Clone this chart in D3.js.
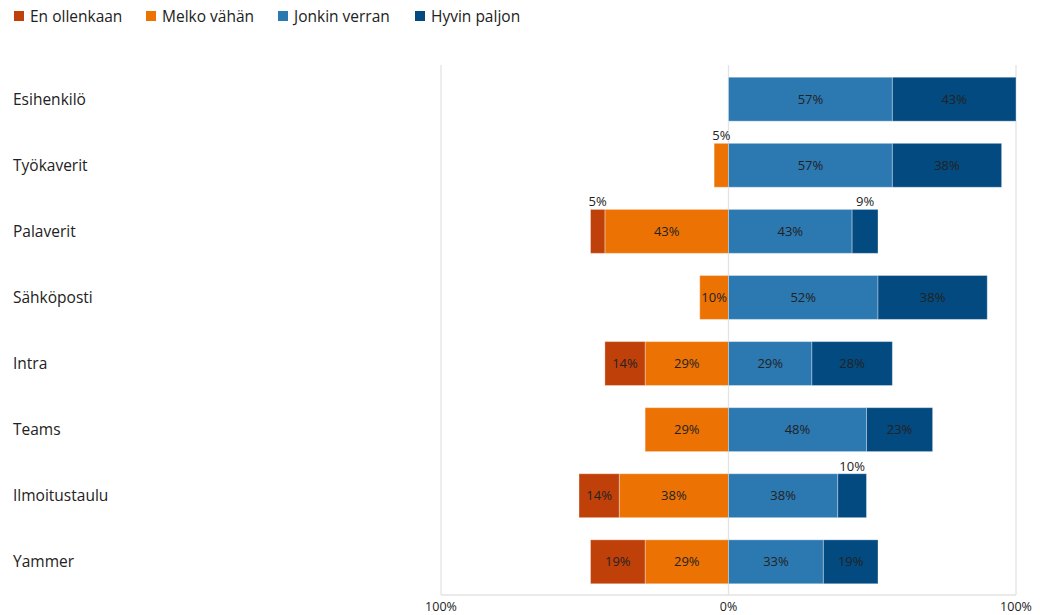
<!DOCTYPE html>
<html>
<head>
<meta charset="utf-8">
<script src="https://cdn.jsdelivr.net/npm/d3@7"></script>
<style>
  body { margin: 0; background: #fff; font-family: "Open Sans", "Noto Sans", sans-serif; }
  svg text { fill: #222; }
</style>
</head>
<body>
<svg id="chart" width="1040" height="615"></svg>
<script>
const categories = ["Esihenkilö", "Työkaverit", "Palaverit", "Sähköposti", "Intra", "Teams", "Ilmoitustaulu", "Yammer"];
const keys = ["En ollenkaan", "Melko vähän", "Jonkin verran", "Hyvin paljon"];
const enOllenkaan  = [0, 0, 5, 0, 14, 0, 14, 19];
const melkoVahan   = [0, 5, 43, 10, 29, 29, 38, 29];
const jonkinVerran = [57, 57, 43, 52, 29, 48, 38, 33];
const hyvinPaljon  = [43, 38, 9, 38, 28, 23, 10, 19];
// labels that sit above the bar instead of inside it
const labelAbove = [["Työkaverit", "Melko vähän"], ["Palaverit", "En ollenkaan"], ["Palaverit", "Hyvin paljon"], ["Ilmoitustaulu", "Hyvin paljon"]];
const axisTicks = [-100, 0, 100];

const colors = ["#c0400a", "#ec7204", "#2c78b0", "#034a80"];

const svg = d3.select("#chart");

const data = categories.map(function(c, i) {
  return { cat: c, vals: [enOllenkaan[i], melkoVahan[i], jonkinVerran[i], hyvinPaljon[i]] };
});

const x = d3.scaleLinear().domain([-100, 100]).range([441, 1016]);
const y = d3.scaleBand().domain(categories).range([66, 595]).paddingInner(0.335).paddingOuter(0.17);
const z = d3.scaleOrdinal().domain(keys).range(colors);

// frame + gridlines
const grid = svg.append("g");
axisTicks.forEach(function(t) {
  grid.append("line")
    .attr("x1", x(t)).attr("x2", x(t))
    .attr("y1", 65).attr("y2", 595)
    .attr("stroke", "#e3e3e3").attr("stroke-width", 1.3);
});
grid.append("line")
  .attr("x1", x(-100)).attr("x2", x(100))
  .attr("y1", 595).attr("y2", 595)
  .attr("stroke", "#e3e3e3").attr("stroke-width", 1.3);

// build segments: first two go left from 0, last two go right
const segs = [];
data.forEach(function(d) {
  let left = 0;
  for (let k = 1; k >= 0; k--) {
    const v = d.vals[k];
    segs.push({ cat: d.cat, key: keys[k], v: v, x0: left - v, x1: left });
    left -= v;
  }
  let right = 0;
  for (let k = 2; k < 4; k++) {
    const v = d.vals[k];
    segs.push({ cat: d.cat, key: keys[k], v: v, x0: right, x1: right + v });
    right += v;
  }
});
const shown = segs.filter(function(s) { return s.v > 0; });

svg.append("g")
  .selectAll("rect")
  .data(shown)
  .enter().append("rect")
    .attr("x", function(s) { return x(s.x0); })
    .attr("y", function(s) { return y(s.cat); })
    .attr("width", function(s) { return x(s.x1) - x(s.x0); })
    .attr("height", y.bandwidth())
    .attr("fill", function(s) { return z(s.key); })
    .attr("stroke", "rgba(255,255,255,0.35)")
    .attr("stroke-width", 1);

function isAbove(s) {
  return labelAbove.some(function(p) { return p[0] === s.cat && p[1] === s.key; });
}

svg.append("g")
  .selectAll("text")
  .data(shown)
  .enter().append("text")
    .attr("x", function(s) { return (x(s.x0) + x(s.x1)) / 2; })
    .attr("y", function(s) {
      return isAbove(s) ? y(s.cat) - 3 : y(s.cat) + y.bandwidth() / 2;
    })
    .attr("dy", function(s) { return isAbove(s) ? 0 : "0.35em"; })
    .attr("text-anchor", "middle")
    .style("font-size", "13px")
    .text(function(s) { return s.v + "%"; });

// category labels
svg.append("g")
  .selectAll("text")
  .data(categories)
  .enter().append("text")
    .attr("x", 13)
    .attr("y", function(c) { return y(c) + y.bandwidth() / 2; })
    .attr("dy", "0.35em")
    .style("font-size", "15.5px")
    .text(function(c) { return c; });

// axis labels
svg.append("g")
  .selectAll("text")
  .data(axisTicks)
  .enter().append("text")
    .attr("x", function(t) { return x(t); })
    .attr("y", 611)
    .attr("text-anchor", "middle")
    .style("font-size", "12.5px")
    .text(function(t) { return Math.abs(t) + "%"; });

// legend
const legendX = [14, 146, 278, 415];
const legend = svg.append("g")
  .selectAll("g")
  .data(keys)
  .enter().append("g")
    .attr("transform", function(d, i) { return "translate(" + legendX[i] + ",11)"; });
legend.append("rect")
  .attr("width", 10).attr("height", 10)
  .attr("fill", z);
legend.append("text")
  .attr("x", 16).attr("y", 5)
  .attr("dy", "0.36em")
  .style("font-size", "15.5px")
  .text(function(d) { return d; });
</script>
</body>
</html>
